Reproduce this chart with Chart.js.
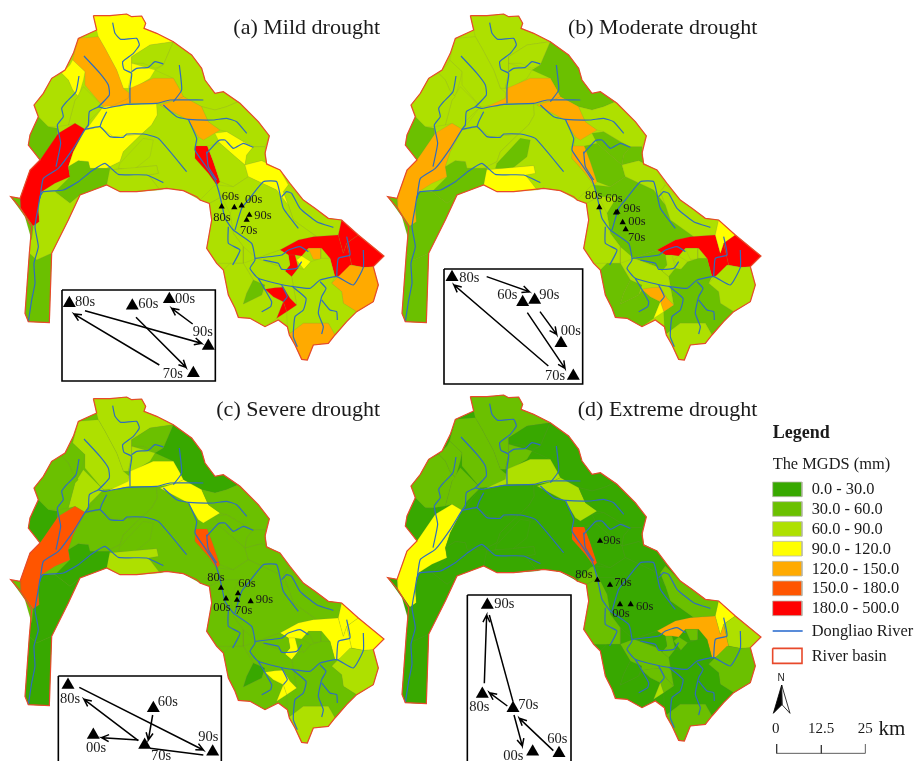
<!DOCTYPE html>
<html>
<head>
<meta charset="utf-8">
<title>MGDS drought maps</title>
<script src="https://cdn.jsdelivr.net/npm/chart.js@4/dist/chart.umd.min.js"></script>
<style>
  html, body { margin: 0; padding: 0; background: #fff; }
  #wrap { width: 914px; height: 761px; }
</style>
</head>
<body>
<div id="wrap"><canvas id="map" width="914" height="761"></canvas></div>
<script>
// everything is in map units: 3 units = 1 screen pixel, panel (a) is the base sheet
const classColors = ["#38A800", "#6BC000", "#AEE000", "#FFFF00", "#FFAA00", "#FF5500", "#FF0000"];
const classLabels = ["0.0 - 30.0", "30.0 - 60.0", "60.0 - 90.0", "90.0 - 120.0", "120.0 - 150.0", "150.0 - 180.0", "180.0 - 500.0"];
const panelTitles = ["(a) Mild drought", "(b) Moderate drought", "(c) Severe drought", "(d) Extreme drought"];
const panelOffsets = [[0, 0], [1131, 0], [0, 1149], [1131, 1143]];
const panelBase = [2, 2, 1, 0];

const basinOutline = [[280,47],[330,47],[380,42],[395,50],[425,48],[437,70],[432,85],[470,100],[520,125],[575,165],[605,205],[615,240],[645,280],[670,275],[720,310],[775,365],[808,408],[795,460],[800,492],[840,510],[870,550],[910,600],[945,625],[985,655],[1025,660],[1075,705],[1152,768],[1120,800],[1135,855],[1120,905],[1070,935],[1040,965],[1005,1005],[985,1030],[940,1035],[922,1080],[905,1078],[885,1035],[868,1005],[862,980],[835,960],[795,980],[750,955],[715,952],[705,925],[685,885],[670,810],[650,790],[620,745],[635,660],[628,610],[600,600],[590,590],[550,572],[500,565],[410,575],[360,575],[320,555],[280,570],[240,585],[205,660],[155,760],[148,968],[85,965],[75,940],[88,760],[95,680],[62,625],[32,590],[60,595],[90,510],[120,480],[85,435],[90,405],[115,350],[102,315],[130,280],[155,235],[195,210],[220,160],[235,115],[290,90]];

// subbasins, each one takes a class per drought level below
const zones = [
  [[280,47],[330,47],[380,42],[395,50],[425,48],[437,70],[432,85],[470,100],[520,125],[450,135],[395,170],[395,215],[385,265],[370,265],[350,210],[315,145],[295,110],[290,90]],
  [[218,180],[235,115],[295,110],[315,145],[350,210],[370,265],[388,280],[388,310],[320,325],[310,320],[255,255],[255,215]],
  [[185,220],[210,195],[218,180],[255,215],[250,240],[235,290],[218,270],[205,240]],
  [[250,260],[310,320],[270,360],[255,388],[225,370],[205,375],[225,300]],
  [[155,235],[185,220],[205,240],[218,270],[235,290],[225,300],[205,375],[170,380],[140,380],[115,350],[102,315],[130,280]],
  [[115,350],[145,380],[172,385],[172,415],[120,480],[85,435],[90,405]],
  [[175,400],[225,370],[255,388],[220,455],[205,500],[210,530],[165,550],[125,575],[115,620],[118,665],[100,680],[62,625],[60,595],[90,510],[120,480]],
  [[255,390],[300,380],[340,410],[425,402],[370,455],[360,485],[320,505],[270,505],[265,485],[235,482],[205,500],[220,455]],
  [[265,380],[310,320],[390,312],[470,312],[472,345],[455,375],[425,402],[340,410],[300,380],[255,390]],
  [[425,402],[455,375],[472,345],[470,312],[480,315],[565,360],[595,410],[585,475],[625,520],[650,555],[660,580],[628,610],[600,600],[550,572],[500,565],[480,570],[445,525],[475,520],[470,497],[325,510],[320,505],[360,485],[370,455]],
  [[360,490],[430,415],[460,420],[450,470],[400,510],[355,505]],
  [[325,510],[470,497],[475,520],[445,525],[480,570],[410,575],[360,575],[320,555]],
  [[205,500],[235,482],[265,485],[270,505],[330,505],[320,555],[280,570],[240,585],[210,610],[165,575],[210,530]],
  [[115,620],[125,575],[165,575],[210,610],[240,585],[205,660],[155,760],[110,780],[88,760],[95,680],[118,665]],
  [[110,780],[155,760],[148,968],[85,965],[75,940],[88,760]],
  [[32,590],[60,595],[62,625],[100,680],[95,720],[75,650]],
  [[450,135],[520,125],[490,195],[465,205],[430,190],[395,190],[395,170]],
  [[395,190],[465,210],[450,235],[400,265],[385,265],[395,215]],
  [[520,125],[575,165],[605,205],[615,240],[645,280],[670,275],[715,305],[680,320],[645,330],[605,320],[550,290],[540,270],[520,235],[465,210],[490,195]],
  [[320,325],[385,295],[390,265],[460,235],[520,235],[540,270],[550,290],[530,300],[480,310],[390,310]],
  [[480,315],[530,300],[550,290],[605,320],[625,365],[660,390],[610,420],[595,410],[565,360]],
  [[605,320],[645,330],[680,320],[715,305],[775,365],[808,408],[795,440],[760,440],[730,425],[680,395],[660,390],[625,365]],
  [[585,438],[622,438],[640,485],[660,545],[650,555],[625,520],[585,475]],
  [[645,400],[680,395],[730,425],[760,440],[740,465],[735,495],[700,465],[660,430]],
  [[622,438],[660,430],[700,465],[735,495],[745,530],[700,560],[660,545],[640,485]],
  [[760,440],[795,440],[800,492],[785,482],[735,495],[740,465]],
  [[735,495],[785,482],[840,510],[865,555],[850,575],[865,615],[845,610],[830,570],[745,530]],
  [[850,575],[865,555],[910,600],[945,625],[985,655],[1025,660],[1015,705],[950,710],[880,660],[865,615]],
  [[650,555],[700,560],[745,530],[830,570],[865,615],[880,660],[950,710],[895,720],[840,750],[770,775],[730,740],[700,700],[690,640],[720,590],[665,590]],
  [[628,610],[665,590],[690,640],[700,700],[730,740],[730,790],[690,790],[650,790],[620,745],[635,660]],
  [[650,555],[665,590],[628,610],[600,600],[640,560]],
  [[840,750],[895,720],[940,710],[1015,705],[1030,760],[1040,730],[1055,795],[1030,825],[1005,830],[990,775],[965,745],[925,745],[905,768],[885,765],[865,765]],
  [[1025,660],[1075,705],[1040,730],[1030,760],[1015,705]],
  [[1075,705],[1152,768],[1120,800],[1090,802],[1055,795],[1040,730]],
  [[865,765],[885,765],[895,805],[875,830],[845,825],[870,795]],
  [[890,780],[905,768],[932,785],[912,808]],
  [[925,745],[962,745],[962,778],[940,778]],
  [[995,850],[1050,795],[1090,802],[1120,800],[1135,855],[1120,905],[1070,935],[1030,910],[1025,875]],
  [[770,775],[840,750],[865,765],[870,795],[845,825],[875,830],[895,805],[912,808],[932,785],[965,775],[990,775],[1005,830],[995,850],[1025,875],[1030,910],[1070,935],[1040,965],[1005,1005],[985,970],[910,970],[868,1002],[862,980],[860,935],[890,915],[875,830],[840,800]],
  [[730,790],[770,775],[840,800],[875,830],[890,915],[870,895],[850,862],[795,868],[760,840]],
  [[690,790],[730,790],[760,840],[740,880],[730,912],[785,885],[795,868],[820,890],[850,905],[830,955],[795,980],[750,955],[715,952],[705,925],[685,885],[670,810]],
  [[760,840],[795,855],[785,885],[730,912],[740,880]],
  [[795,868],[825,863],[850,862],[870,895],[890,915],[860,935],[850,905],[820,890]],
  [[830,955],[850,905],[860,935]],
  [[868,1002],[910,970],[950,970],[985,970],[1005,1005],[985,1030],[940,1035],[922,1080],[905,1078],[885,1035]]
];
const mildClasses     = [3,4,3,2,2,1,6,3,3,2,2,2,1,2,1,1,2,3,2,4,4,2,6,3,2,2,3,2,2,2,2,6,6,6,6,3,4,4,2,2,2,1,6,6,4];
const moderateClasses = [2,2,2,2,2,1,4,2,2,2,1,3,1,1,1,1,2,2,1,4,4,2,4,1,1,1,2,2,1,2,2,6,3,6,2,2,2,2,1,2,1,1,4,3,2];
const severeClasses   = [2,2,1,2,1,0,5,1,1,1,1,2,0,0,0,1,1,2,0,3,3,1,5,1,1,1,1,1,1,1,1,3,3,3,3,1,1,2,1,1,1,0,3,3,2];
const extremeClasses  = [1,1,1,1,1,0,3,0,0,0,0,0,0,0,0,0,0,1,0,2,2,0,5,0,0,0,0,1,0,1,1,4,3,2,1,1,1,1,0,1,0,0,1,2,1];
const panelClasses = [mildClasses, moderateClasses, severeClasses, extremeClasses];

const rivers = [
  [[85,965],[95,900],[105,850],[102,790],[115,740],[105,680],[115,620],[120,590],[130,575],[190,570],[235,545],[275,513],[315,490],[355,523],[440,525],[490,548]],
  [[120,595],[130,535],[175,505],[220,445],[255,388],[265,375],[268,335],[295,320],[328,285],[325,255],[300,220],[252,168]],
  [[295,320],[315,325],[380,313],[470,310],[510,300],[610,300]],
  [[237,228],[228,275],[200,305],[185,325],[190,350],[172,375],[182,430],[168,500]],
  [[338,68],[345,100],[362,118],[410,115],[418,135],[400,160],[368,185],[372,208],[395,220],[390,260],[390,310]],
  [[395,215],[410,205],[445,202],[465,185],[490,192]],
  [[538,195],[545,270],[520,305]],
  [[490,315],[530,350],[565,358],[640,360],[680,355],[710,365],[740,400]],
  [[255,388],[300,380],[330,410],[370,412],[380,402],[430,402],[475,415],[560,515]],
  [[320,335],[305,365],[300,380]],
  [[565,358],[590,415],[585,450],[615,495],[645,540],[655,570],[665,610],[675,655],[700,690],[755,730],[765,780],[750,805],[775,835],[850,855],[930,865],[960,840],[1010,830],[1060,855],[1090,802],[1090,750]],
  [[620,460],[655,422],[675,420],[700,445],[730,430],[760,442]],
  [[620,455],[625,500],[650,540]],
  [[705,690],[725,625],[745,600],[790,545],[830,545],[850,625],[895,685]],
  [[845,590],[860,575],[875,580],[900,625],[950,665],[1000,682]],
  [[685,680],[685,730],[720,750],[698,795]],
  [[765,775],[845,765],[865,750],[900,740],[925,755]],
  [[790,780],[835,790],[845,808],[890,805],[905,785]],
  [[1010,830],[1015,775],[1050,765],[1040,710]],
  [[875,858],[918,895],[910,930],[885,950],[880,1010],[892,1040]],
  [[960,845],[978,865],[965,890],[955,940],[970,980],[965,1002]],
  [[965,900],[990,930],[1010,935],[1012,960]],
  [[775,835],[815,905],[812,920],[785,935]],
  [[845,855],[862,890],[850,905]]
];

const decadeNames = ["60s", "70s", "80s", "90s", "00s"];
// site positions on the map, per panel, same order as decadeNames
const mapSites = [
  [[703,622],[740,660],[665,620],[748,645],[725,617]],
  [[1848,638],[1877,688],[1798,622],[1852,636],[1868,667]],
  [[714,1780],[711,1800],[663,1764],[752,1804],[678,1796]],
  [[1892,1813],[1830,1755],[1792,1740],[1800,1623],[1860,1813]]
];
const mapLabelSpots = [
  [[665,590],[720,692],[640,652],[763,646],[735,599]],
  [[1816,597],[1884,713],[1755,586],[1870,626],[1885,664]],
  [[715,1750],[705,1832],[622,1732],[767,1798],[640,1824]],
  [[1908,1821],[1843,1747],[1726,1725],[1810,1622],[1837,1840]]
];
const insetSites = [
  [[397,917],[580,1120],[208,910],[625,1038],[508,898]],
  [[1568,907],[1720,1128],[1356,832],[1604,900],[1683,1030]],
  [[460,2125],[434,2235],[204,2055],[638,2255],[280,2205]],
  [[1677,2260],[1539,2125],[1447,2082],[1462,1815],[1598,2255]]
];
const insetLabelSpots = [
  [[415,914],[488,1124],[225,906],[578,998],[525,898]],
  [[1492,887],[1635,1128],[1378,834],[1618,887],[1682,993]],
  [[473,2107],[453,2268],[180,2098],[595,2212],[258,2245]],
  [[1642,2218],[1555,2115],[1408,2123],[1483,1813],[1510,2268]]
];
const insetBoxes = [
  [186,870,646,1143],
  [1332,807,1748,1152],
  [175,2028,664,2320],
  [1402,1785,1713,2320]
];
// [tail, tip, headed]
const insetArrows = [
  [[255,932],[605,1030],1],[[478,1095],[222,942],1],[[408,952],[558,1102],1],[[578,972],[515,925],1],
  [[1460,830],[1588,875],1],[[1620,935],[1670,1003],1],[[1582,938],[1695,1105],1],[[1645,1098],[1362,855],1],
  [[238,2062],[610,2250],1],[[415,2222],[252,2098],1],[[458,2145],[445,2220],1],[[415,2220],[305,2213],1],[[610,2265],[450,2245],0],
  [[1453,2050],[1460,1845],1],[[1539,2105],[1468,1845],0],[[1522,2118],[1468,2078],1],[[1542,2145],[1567,2238],1],[[1660,2252],[1558,2155],1]
];

const legendOrigin = [2280, 1260];
const legendSwatchTops = [186, 245, 305, 364, 424, 483, 543];
const riverLegendLine = [[38,633],[128,633]];
const basinLegendBox = [[38,685],[126,685],[126,730],[38,730],[38,685]];
const northDark = [[65,795],[40,880],[65,855]];
const northLight = [[65,795],[90,880],[67,855]];
const scaleBar = [[50,972],[50,1000],[316,1000],[316,972]];
const scaleTick = [[184,975],[184,1000]];
const scaleTexts = ["0", "12.5", "25"];
const scaleTextSpots = [[47,926],[183,926],[316,926]];

const BORDER = "#E8492B";
const RIVER = "#2F6DBE";

const toPts = (list, dx = 0, dy = 0) => list.map(([x, y]) => ({ x: x + dx, y: y + dy }));
const polygon = (pts, fillColor, edge, edgeWidth, tension = 0) => ({
  type: "scatter", data: pts, showLine: true, tension, pointRadius: 0,
  fill: fillColor ? "shape" : false, backgroundColor: fillColor || "transparent",
  borderColor: edge, borderWidth: edgeWidth
});

const datasets = [];
const texts = [];

panelOffsets.forEach(([dx, dy], p) => {
  const outline = [...basinOutline, basinOutline[0]];
  datasets.push(polygon(toPts(outline, dx, dy), classColors[panelBase[p]], "transparent", 0));
  zones.forEach((zone, i) => {
    const closed = [...zone, zone[0]];
    datasets.push(polygon(toPts(closed, dx, dy), classColors[panelClasses[p][i]], "rgba(120,130,90,0.25)", 0.6));
  });
  rivers.forEach((r) => datasets.push(polygon(toPts(r, dx, dy), null, RIVER, 1.2, 0.15)));
  datasets.push(polygon(toPts(outline, dx, dy), null, BORDER, 1.2));

  // map sites and inset
  [mapSites[p], insetSites[p]].forEach((sites, k) => {
    datasets.push({
      type: "scatter", data: toPts(sites), pointStyle: "triangle",
      pointRadius: k ? 7.5 : 3.6, pointBackgroundColor: "#000", pointBorderColor: "#000", pointBorderWidth: 0
    });
  });
  decadeNames.forEach((name, i) => {
    texts.push({ t: name, x: mapLabelSpots[p][i][0], y: mapLabelSpots[p][i][1], size: 12.5 });
    texts.push({ t: name, x: insetLabelSpots[p][i][0], y: insetLabelSpots[p][i][1], size: 14.5 });
  });
  const [x0, y0, x1, y1] = insetBoxes[p];
  datasets.push(polygon(toPts([[x0,y0],[x1,y0],[x1,y1],[x0,y1],[x0,y0]]), null, "#000", 1.6));
});

// arrows with open heads
insetArrows.forEach(([a, b, headed]) => {
  const pts = [a, b];
  if (headed) {
    const ang = Math.atan2(b[1] - a[1], b[0] - a[0]);
    [0.45, -0.45].forEach((d) => {
      pts.push([b[0] - 24 * Math.cos(ang + d), b[1] - 24 * Math.sin(ang + d)], b);
    });
  }
  datasets.push(polygon(toPts(pts), null, "#000", 1.5));
});

const [lx, ly] = legendOrigin;
classColors.forEach((c, i) => {
  const t = legendSwatchTops[i];
  datasets.push(polygon(toPts([[38,t],[126,t],[126,t+44],[38,t+44],[38,t]], lx, ly), c, "#B8B8A8", 0.8));
  texts.push({ t: classLabels[i], x: lx + 155, y: ly + t + 24, size: 16.4 });
});
datasets.push(polygon(toPts(riverLegendLine, lx, ly), null, "#2F6FD0", 1.6));
datasets.push(polygon(toPts(basinLegendBox, lx, ly), null, BORDER, 1.6));
datasets.push(polygon(toPts([...northDark, northDark[0]], lx, ly), "#000", "#000", 0.8));
datasets.push(polygon(toPts([...northLight, northLight[0]], lx, ly), "#fff", "#000", 0.8));
datasets.push(polygon(toPts(scaleBar, lx, ly), null, "#333", 0.8));
datasets.push(polygon(toPts(scaleTick, lx, ly), null, "#333", 0.8));

texts.push({ t: "Legend", x: lx + 38, y: ly + 40, size: 18, bold: true });
texts.push({ t: "The MGDS (mm)", x: lx + 38, y: ly + 133, size: 16.4 });
texts.push({ t: "Dongliao River", x: lx + 155, y: ly + 634, size: 16.4 });
texts.push({ t: "River basin", x: lx + 155, y: ly + 710, size: 16.4 });
texts.push({ t: "N", x: lx + 63, y: ly + 776, size: 10, align: "center", sans: true });
scaleTexts.forEach((s, i) => texts.push({ t: s, x: lx + scaleTextSpots[i][0], y: ly + scaleTextSpots[i][1], size: 15, align: "center" }));
texts.push({ t: "km", x: lx + 396, y: ly + 928, size: 21, align: "center" });

// panel titles, right aligned over each map
[[1140,84],[2272,84],[1140,1232],[2272,1232]].forEach(([x, y], i) => {
  texts.push({ t: panelTitles[i], x, y, size: 22, align: "right" });
});

const textPlugin = {
  id: "mapTexts",
  afterDatasetsDraw(chart) {
    const { ctx, scales } = chart;
    ctx.save();
    ctx.fillStyle = "#1a1a1a";
    ctx.textBaseline = "middle";
    texts.forEach((o) => {
      ctx.font = `${o.bold ? "bold " : ""}${o.size}px ${o.sans ? '"Liberation Sans"' : '"Liberation Serif"'}`;
      ctx.textAlign = o.align || "left";
      ctx.fillText(o.t, scales.x.getPixelForValue(o.x), scales.y.getPixelForValue(o.y));
    });
    ctx.restore();
  }
};

new Chart(document.getElementById("map"), {
  type: "scatter",
  data: { datasets: datasets.reverse() }, // chart.js paints the first dataset last
  options: {
    responsive: false,
    animation: false,
    layout: { padding: 0, autoPadding: false },
    plugins: { legend: { display: false }, tooltip: { enabled: false }, title: { display: false } },
    scales: {
      x: { type: "linear", min: 0, max: 2742, display: false },
      y: { type: "linear", min: 0, max: 2283, reverse: true, display: false }
    }
  },
  plugins: [textPlugin]
});
</script>
</body>
</html>
